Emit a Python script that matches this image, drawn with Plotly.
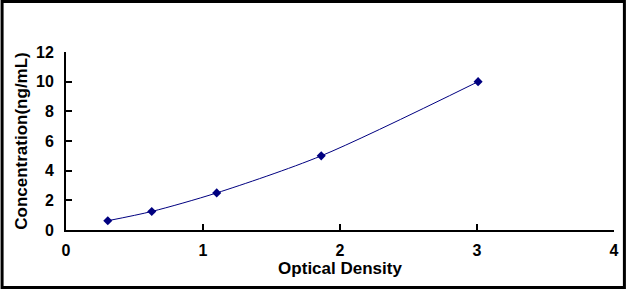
import plotly.graph_objects as go

od = [0.305, 0.626, 1.10, 1.863, 3.008]
conc = [0.625, 1.25, 2.5, 5, 10]
x_ticks = [0, 1, 2, 3, 4]
y_ticks = [0, 2, 4, 6, 8, 10, 12]

W, H = 631, 289
L, R, T, B = 66, 12, 52, 59
pw, ph = W - L - R, H - T - B

fig = go.Figure()
fig.add_trace(go.Scatter(
    x=od, y=conc, mode="lines+markers",
    line=dict(color="#000080", width=1, shape="spline", smoothing=0.8),
    marker=dict(symbol="diamond", size=7, color="#000080"),
    showlegend=False,
))

tick_font = dict(family="Liberation Sans, Arial, sans-serif", size=16, color="black")
title_font = dict(family="Liberation Sans, Arial, sans-serif", size=17, color="black")

fig.update_layout(
    width=W, height=H,
    margin=dict(l=L, r=R, t=T, b=B),
    paper_bgcolor="white", plot_bgcolor="white",
    font=tick_font,
    xaxis=dict(
        range=[0, 4], tickvals=x_ticks, ticktext=[f"<b>{v}</b>" for v in x_ticks],
        showgrid=False, zeroline=False, showline=True, linecolor="black", linewidth=2,
        ticks="inside", ticklen=6, tickwidth=2, tickcolor="black",
        tickfont=tick_font, ticklabelstandoff=5,
        title=dict(text="<b>Optical Density</b>", font=title_font, standoff=0),
    ),
    yaxis=dict(
        range=[0, 12], tickvals=y_ticks, ticktext=[f"<b>{v}</b>" for v in y_ticks],
        showgrid=False, zeroline=False, showline=True, linecolor="black", linewidth=2,
        ticks="inside", ticklen=6, tickwidth=2, tickcolor="black",
        tickfont=tick_font, ticklabelstandoff=7,
        title=dict(text="<b>Concentration(ng/mL)</b>", font=title_font, standoff=4),
    ),
    shapes=[dict(
        type="rect", xref="paper", yref="paper",
        x0=(1.5 - L) / pw, x1=(W - 1.5 - L) / pw,
        y0=-(B - 1.5) / ph, y1=1 + (T - 1.5) / ph,
        line=dict(color="black", width=3), fillcolor="rgba(0,0,0,0)",
    )],
)

fig.write_html("out.html")
